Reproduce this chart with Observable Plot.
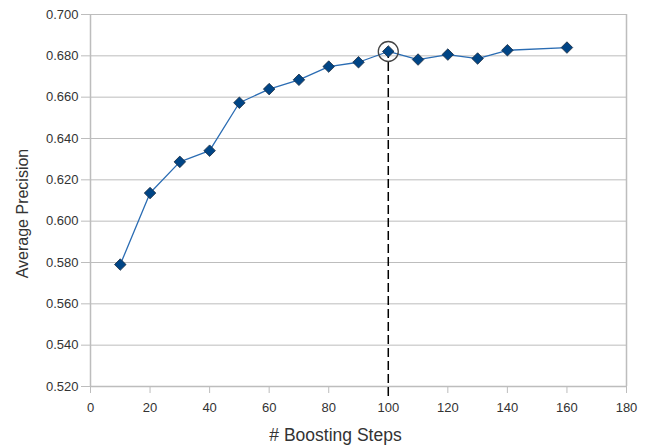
<!DOCTYPE html>
<html>
<head>
<meta charset="utf-8">
<script src="https://cdn.jsdelivr.net/npm/d3@7"></script>
<script src="https://cdn.jsdelivr.net/npm/@observablehq/plot@0.6"></script>
<style>
  html, body { margin: 0; padding: 0; background: #fff; }
  svg { display: block; }
</style>
</head>
<body>
<div id="chart"></div>
<script>
const steps = [10, 20, 30, 40, 50, 60, 70, 80, 90, 100, 110, 120, 130, 140, 160];
const precision = [0.579, 0.6136, 0.6287, 0.6341, 0.6573, 0.6639, 0.6684, 0.6748, 0.6769, 0.6821, 0.6782, 0.6806, 0.6787, 0.6827, 0.6840];
const bestStep = [100];
const bestPrecision = [0.6821];
const xTicks = [0, 20, 40, 60, 80, 100, 120, 140, 160, 180];
const yTicks = [0.52, 0.54, 0.56, 0.58, 0.60, 0.62, 0.64, 0.66, 0.68, 0.70];

const data = steps.map((s, i) => ({step: s, ap: precision[i]}));
const best = bestStep.map((s, i) => ({step: s, ap: bestPrecision[i]}));

const gridColor = "#bdbdbd";
const textColor = "#333";

const chart = Plot.plot({
  width: 652,
  height: 448,
  marginLeft: 90,
  marginRight: 26,
  marginTop: 14,
  marginBottom: 62,
  style: {fontFamily: "'Liberation Sans', Arial, sans-serif", fontSize: "13px", color: textColor, background: "#fff"},
  x: {domain: [0, 180]},
  y: {domain: [0.52, 0.70]},
  marks: [
    Plot.gridY(yTicks, {stroke: gridColor, strokeOpacity: 1, strokeWidth: 1}),
    Plot.ruleX([0, 180], {stroke: gridColor, strokeWidth: 1.5}),
    Plot.axisY(yTicks, {tickFormat: d3.format(".3f"), tickSize: 9, tickPadding: 3, stroke: gridColor, fill: textColor, fontSize: 13, label: null}),
    Plot.axisX(xTicks, {tickSize: 7, tickPadding: 9, stroke: gridColor, fill: textColor, fontSize: 13, label: null}),
    Plot.ruleY([0.52], {stroke: gridColor, strokeWidth: 1.5}),
    Plot.ruleX(best, {x: "step", y1: 0.52, y2: "ap", insetTop: 10, stroke: "#000", strokeWidth: 1.5, strokeDasharray: "9,4"}),
    Plot.line(data, {x: "step", y: "ap", stroke: "#2a6cb3", strokeWidth: 1.3}),
    Plot.dot(data, {x: "step", y: "ap", symbol: "diamond2", r: 5.2, fill: "#004586", stroke: "#1b2b3f", strokeWidth: 0.8}),
    Plot.dot(best, {x: "step", y: "ap", r: 10, fill: "none", stroke: "#444", strokeWidth: 1.3}),
    Plot.text(["# Boosting Steps"], {frameAnchor: "bottom", dx: -23, dy: 54, fontSize: 17.5, fill: textColor}),
    Plot.text(["Average Precision"], {frameAnchor: "left", textAnchor: "middle", dx: -68, dy: 13, rotate: -90, fontSize: 16, fill: textColor})
  ]
});
document.getElementById("chart").appendChild(chart);
</script>
</body>
</html>
